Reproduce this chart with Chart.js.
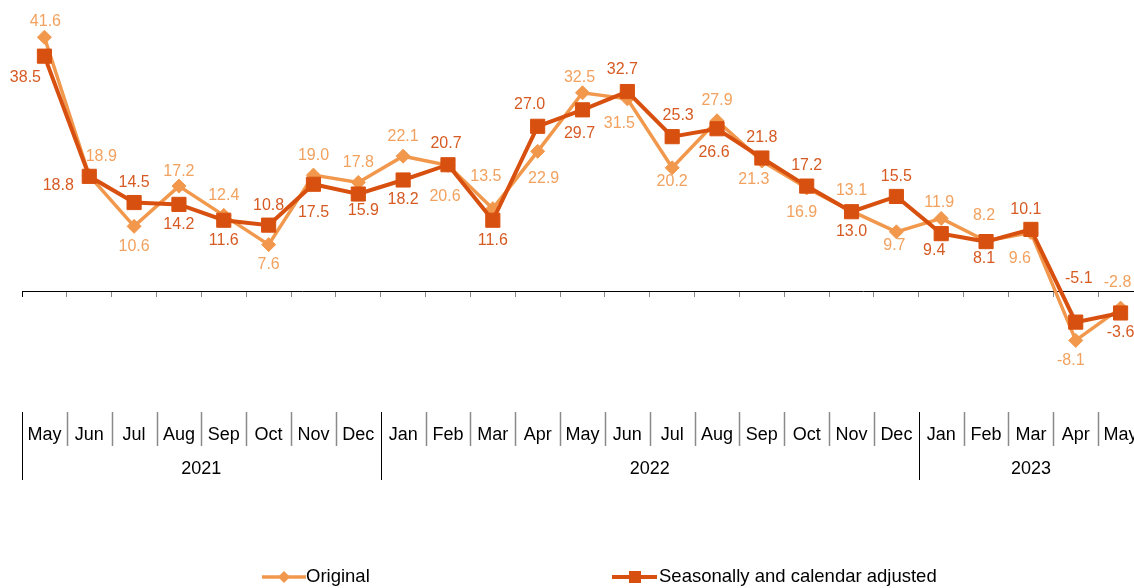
<!DOCTYPE html>
<html>
<head>
<meta charset="utf-8">
<script src="https://cdn.jsdelivr.net/npm/chart.js@4"></script>
<style>
  html, body { margin: 0; padding: 0; background: #fff; overflow: hidden; }
  #wrap { width: 1160px; height: 588px; }
</style>
</head>
<body>
<div id="wrap"><canvas id="chart" width="1160" height="588"></canvas></div>
<script>
const months = ["May", "Jun", "Jul", "Aug", "Sep", "Oct", "Nov", "Dec",
  "Jan", "Feb", "Mar", "Apr", "May", "Jun", "Jul", "Aug", "Sep", "Oct", "Nov", "Dec",
  "Jan", "Feb", "Mar", "Apr", "May"];
const years = ["2021", "2022", "2023"];
const original = [41.6, 18.9, 10.6, 17.2, 12.4, 7.6, 19.0, 17.8,
  22.1, 20.6, 13.5, 22.9, 32.5, 31.5, 20.2, 27.9, 21.3, 16.9, 13.1, 9.7,
  11.9, 8.2, 9.6, -8.1, -2.8];
const adjusted = [38.5, 18.8, 14.5, 14.2, 11.6, 10.8, 17.5, 15.9,
  18.2, 20.7, 11.6, 27.0, 29.7, 32.7, 25.3, 26.6, 21.8, 17.2, 13.0, 15.5,
  9.4, 8.1, 10.1, -5.1, -3.6];

const FONT = "'Liberation Sans', Arial, sans-serif";
const colOrig = "#F1984D";
const colOrigText = "#F2A15E";
const colAdj = "#D8500F";
const colAdjText = "#D65A22";

// hand placed value labels, offset from the marker
const nudgeOrig = {
  0: [1, -16], 1: [12, -19], 3: [0, -14], 9: [-3, 31], 10: [-7, -32], 11: [6, 27],
  12: [-3, -15], 13: [-8, 25], 14: [0, 14], 16: [-8, 19], 17: [-5, 25], 19: [-2, 14],
  20: [-2, -16], 21: [-2, -25], 22: [-11, 26], 23: [-5, 20], 24: [-3, -25]
};
const nudgeAdj = {
  0: [-19, 21], 1: [-31, 9], 6: [0, 28], 7: [5, 17], 9: [-2, -21], 11: [-8, -22],
  12: [-3, 24], 13: [-5, -22], 14: [6, -21], 15: [-3, 24], 20: [-7, 17], 21: [-2, 17],
  22: [-5, -20], 23: [3, -44]
};

const valueLabels = {
  id: "valueLabels",
  afterDatasetsDraw(c) {
    const ctx = c.ctx;
    const mo = c.getDatasetMeta(0).data;
    const ma = c.getDatasetMeta(1).data;
    ctx.save();
    ctx.font = "16px " + FONT;
    ctx.textAlign = "center";
    ctx.textBaseline = "middle";
    months.forEach((m, i) => {
      const origHigh = original[i] >= adjusted[i];
      let d = nudgeOrig[i] || [0, origHigh ? -20 : 20];
      ctx.fillStyle = colOrigText;
      ctx.fillText(original[i].toFixed(1), mo[i].x + d[0], mo[i].y + d[1]);
      d = nudgeAdj[i] || [0, origHigh ? 20 : -20];
      ctx.fillStyle = colAdjText;
      ctx.fillText(adjusted[i].toFixed(1), ma[i].x + d[0], ma[i].y + d[1]);
    });
    ctx.restore();
  }
};

const bottomAxis = {
  id: "bottomAxis",
  afterDraw(c) {
    const ctx = c.ctx;
    const x = c.scales.x;
    const half = (x.getPixelForValue(1) - x.getPixelForValue(0)) / 2;
    ctx.save();
    ctx.font = "18px " + FONT;
    ctx.textAlign = "center";
    ctx.textBaseline = "middle";
    // month labels, month separators and year separators
    let yearStarts = [];
    months.forEach((m, i) => {
      const px = x.getPixelForValue(i);
      const isYear = i === 0 || m === "Jan";
      if (isYear) yearStarts.push(i);
      ctx.beginPath();
      ctx.strokeStyle = isYear ? "#000" : "#8a8a8a";
      ctx.lineWidth = isYear ? 1 : 1.5;
      const lx = Math.round(px - half) + 0.5;
      ctx.moveTo(lx, 412);
      ctx.lineTo(lx, isYear ? 480 : 446);
      ctx.stroke();
      ctx.fillStyle = "#000";
      ctx.fillText(m, px, 435);
    });
    years.forEach((yr, k) => {
      const a = yearStarts[k];
      const b = k + 1 < yearStarts.length ? yearStarts[k + 1] : months.length;
      const cx = (x.getPixelForValue(a) - half + x.getPixelForValue(b - 1) + half) / 2;
      ctx.fillText(yr, cx, 469);
    });

    // legend
    const ly = 577;
    ctx.font = "18.5px " + FONT;
    ctx.lineWidth = 3.5;
    ctx.strokeStyle = colOrig;
    ctx.beginPath(); ctx.moveTo(262, ly); ctx.lineTo(306, ly); ctx.stroke();
    ctx.fillStyle = colOrig;
    ctx.beginPath();
    ctx.moveTo(284, ly - 6); ctx.lineTo(290, ly); ctx.lineTo(284, ly + 6); ctx.lineTo(278, ly);
    ctx.closePath(); ctx.fill();
    ctx.lineWidth = 4;
    ctx.strokeStyle = colAdj;
    ctx.beginPath(); ctx.moveTo(612, ly); ctx.lineTo(657, ly); ctx.stroke();
    ctx.fillStyle = colAdj;
    ctx.fillRect(629, ly - 6, 12, 12);
    ctx.fillStyle = "#000";
    ctx.textAlign = "left";
    ctx.fillText("Original", 306, ly);
    ctx.fillText("Seasonally and calendar adjusted", 659, ly);
    ctx.restore();
  }
};

new Chart(document.getElementById("chart"), {
  type: "line",
  data: {
    labels: months,
    datasets: [{
      label: "Original",
      data: original,
      borderColor: colOrig,
      backgroundColor: colOrig,
      borderWidth: 3.5,
      pointStyle: "rectRot",
      pointRadius: 7,
      pointBorderWidth: 1,
      tension: 0,
      order: 1
    }, {
      label: "Seasonally and calendar adjusted",
      data: adjusted,
      borderColor: colAdj,
      backgroundColor: colAdj,
      borderWidth: 4,
      pointStyle: "rect",
      pointRadius: 10,
      pointBorderWidth: 1,
      tension: 0,
      order: 0
    }]
  },
  options: {
    responsive: false,
    animation: false,
    devicePixelRatio: 1,
    layout: { padding: { left: 22, right: 17, top: 16.5, bottom: 205.5 } },
    plugins: {
      legend: { display: false },
      tooltip: { enabled: false }
    },
    scales: {
      x: {
        type: "category",
        position: { y: 0 },
        offset: true,
        grid: {
          offset: true,
          drawOnChartArea: false,
          tickLength: 5,
          color: (ctx) => ctx.index === 0 ? "#000" : "#888",
          lineWidth: 1
        },
        border: { display: true, color: "#000", width: 1 },
        ticks: { display: false, autoSkip: false, maxRotation: 0 }
      },
      y: {
        display: false,
        min: -15,
        max: 45
      }
    }
  },
  plugins: [valueLabels, bottomAxis]
});
</script>
</body>
</html>
